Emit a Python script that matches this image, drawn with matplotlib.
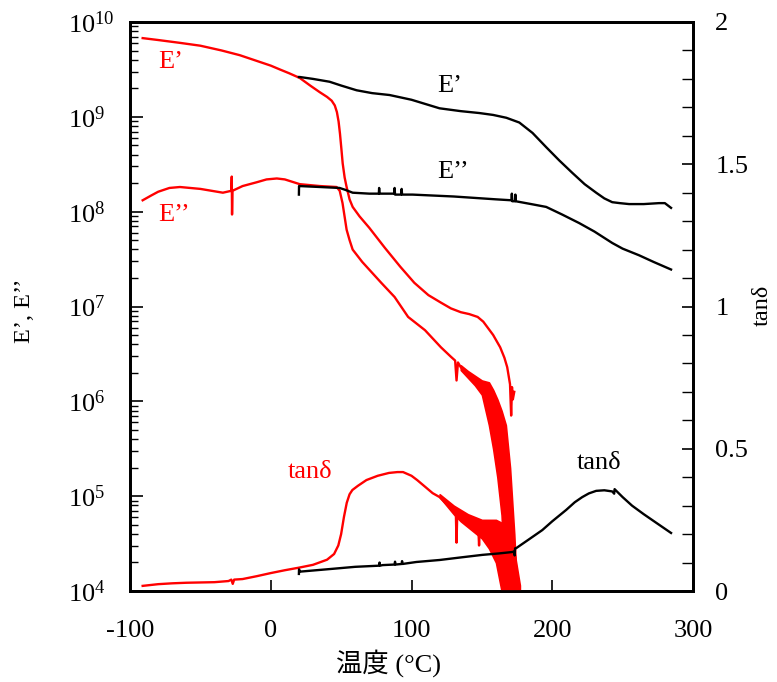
import numpy as np
import matplotlib
matplotlib.use('Agg')
import matplotlib.pyplot as plt
from matplotlib.ticker import FixedLocator, MultipleLocator, FuncFormatter, NullFormatter

plt.rcParams['font.family'] = ['Liberation Serif', 'Noto Sans CJK JP', 'DejaVu Sans']
plt.rcParams['mathtext.fontset'] = 'custom'
plt.rcParams['mathtext.rm'] = 'Liberation Serif'
plt.rcParams['mathtext.it'] = 'Liberation Serif:italic'
plt.rcParams['axes.unicode_minus'] = False

# ---------------- data (log10 of modulus; tan delta) ----------------
# Red sample (-90 .. 175 C)
red_ep_T = [-91, -80, -64.5, -50, -35, -22, -10, 0, 6.4, 13, 20.6, 28, 34.8, 40, 43.3, 45.5, 47,
            48.2, 49.2, 50.2, 51.1, 52.5, 53.9, 56, 58.2, 63.1, 70, 81, 92, 102, 112, 121, 128, 135,
            141, 147, 151, 154, 158, 163, 166, 168, 170, 170.8, 171.4, 172, 173]
red_ep_log = [9.83, 9.81, 9.78, 9.75, 9.70, 9.65, 9.59, 9.54, 9.50, 9.46, 9.41, 9.33, 9.26, 9.21,
              9.17, 9.12, 9.05, 8.95, 8.82, 8.66, 8.51, 8.36, 8.26, 8.13, 8.05, 7.95, 7.83, 7.62,
              7.42, 7.25, 7.12, 7.04, 6.98, 6.94, 6.92, 6.89, 6.84, 6.78, 6.70, 6.57, 6.46, 6.36,
              6.18, 5.85, 6.15, 6.02, 6.10]

red_epp_T = [-91, -85, -80, -72, -64.5, -50, -34, -28, -27.7, -27.5, -27.2, -20, -10, -3, 4.3,
             10, 20.6, 35, 46.8, 49, 51, 53.9, 56, 58.2, 65, 78.5, 88, 97.6, 109.6, 120.9, 128,
             131, 132, 133, 135, 140, 145, 150, 155, 158, 161, 164, 167, 170, 173]
red_epp_log = [8.12, 8.17, 8.21, 8.25, 8.26, 8.24, 8.20, 8.22, 8.37, 7.97, 8.22, 8.27, 8.31, 8.34,
               8.35, 8.34, 8.29, 8.27, 8.26, 8.22, 8.09, 7.81, 7.70, 7.60, 7.47, 7.25, 7.10, 6.89,
               6.75, 6.57, 6.47, 6.43, 6.22, 6.41, 6.36, 6.28, 6.21, 6.14, 5.95, 5.81, 5.61, 5.35,
               4.9, 4.4, 4.0]
# scatter envelope of the noisy E'' tail
red_epp_band_T = [135, 140, 145, 150, 155, 158, 161, 164, 167, 170, 173, 175]
red_epp_band_hi = [6.38, 6.32, 6.27, 6.22, 6.20, 6.12, 6.02, 5.90, 5.75, 5.30, 4.60, 4.00]
red_epp_band_lo = [6.33, 6.25, 6.17, 6.07, 5.75, 5.50, 5.20, 4.80, 3.90, 3.90, 3.90, 3.90]

red_tan_T = [-91, -80, -70, -60, -50, -40, -30, -28, -27, -26, -20, -10, 0, 10, 20, 30, 40, 45,
             48, 50, 52, 54, 56, 58, 62, 68, 76, 84, 90, 94, 100, 104, 110, 115, 120, 125, 130,
             131.5, 132, 132.5, 135, 140, 145, 147.5, 148, 148.5, 150, 155, 160, 165, 170, 175]
red_tan = [0.018, 0.024, 0.027, 0.029, 0.030, 0.031, 0.035, 0.040, 0.025, 0.040, 0.042, 0.052,
           0.063, 0.073, 0.082, 0.092, 0.110, 0.130, 0.160, 0.200, 0.260, 0.310, 0.340, 0.355,
           0.370, 0.390, 0.405, 0.415, 0.418, 0.418, 0.405, 0.390, 0.365, 0.344, 0.330, 0.305,
           0.280, 0.275, 0.170, 0.270, 0.260, 0.245, 0.230, 0.220, 0.160, 0.220, 0.215, 0.200,
           0.170, 0.120, 0.060, 0.000]
# scatter envelope of the noisy tan delta tail
red_tan_band_T = [120, 125, 130, 135, 140, 145, 150, 155, 160, 164, 168, 172, 175, 177]
red_tan_band_hi = [0.34, 0.32, 0.30, 0.285, 0.27, 0.26, 0.25, 0.25, 0.25, 0.24, 0.22, 0.17, 0.08, 0.02]
red_tan_band_lo = [0.33, 0.30, 0.27, 0.245, 0.225, 0.205, 0.185, 0.15, 0.10, 0.00, -0.01, -0.01, -0.01, -0.01]

# Black sample (20 .. 285 C)
blk_ep_T = [20, 20.6, 30, 41.8, 50, 61, 72, 84.4, 100, 119.9, 135, 148.2, 158, 167.4, 176.6, 186,
            195.7, 205, 214.2, 223, 231.2, 237, 242.6, 248, 254.6, 265, 275.9, 280, 284.4]
blk_ep_log = [9.42, 9.42, 9.40, 9.37, 9.33, 9.28, 9.25, 9.23, 9.18, 9.09, 9.06, 9.04, 9.02, 8.99,
              8.94, 8.83, 8.68, 8.54, 8.41, 8.29, 8.20, 8.14, 8.10, 8.09, 8.08, 8.08, 8.09, 8.09, 8.04]

blk_epp_T = [20, 20.1, 20.6, 35, 48.9, 53, 58.2, 70, 76.8, 77, 77.3, 85, 87.6, 88, 88.3, 92.6,
             93, 93.3, 100.7, 130, 160, 171, 171.3, 171.6, 173.5, 173.8, 174, 185, 195.7, 207,
             219.1, 230, 242.6, 250, 261.7, 272, 284.4]
blk_epp_log = [8.18, 8.27, 8.27, 8.26, 8.25, 8.23, 8.20, 8.19, 8.19, 8.25, 8.19, 8.19, 8.19, 8.25,
               8.18, 8.18, 8.24, 8.18, 8.18, 8.16, 8.13, 8.12, 8.19, 8.11, 8.11, 8.18, 8.11, 8.08,
               8.05, 7.97, 7.88, 7.79, 7.67, 7.61, 7.54, 7.47, 7.39]

blk_tan_T = [20, 20.1, 20.6, 30, 44, 60, 77, 77.3, 77.6, 79.4, 88, 88.3, 88.6, 93, 93.3, 93.6,
             103.5, 120, 135, 150.4, 162, 171.6, 173, 173.3, 173.6, 174.5, 183, 192.9, 200, 209.9,
             216, 221.3, 226, 231.2, 237, 242.6, 244, 244.3, 250, 256.7, 265, 273.8, 284.4]
blk_tan = [0.060, 0.076, 0.068, 0.072, 0.078, 0.085, 0.089, 0.100, 0.089, 0.091, 0.093, 0.103,
           0.093, 0.095, 0.105, 0.095, 0.102, 0.109, 0.118, 0.127, 0.132, 0.137, 0.139, 0.125,
           0.150, 0.151, 0.180, 0.214, 0.245, 0.285, 0.312, 0.330, 0.343, 0.352, 0.354, 0.350,
           0.342, 0.358, 0.330, 0.300, 0.270, 0.240, 0.204]

xticks = [-100, 0, 100, 200, 300]
yticks = [1e4, 1e5, 1e6, 1e7, 1e8, 1e9, 1e10]
y2ticks = [0, 0.5, 1, 1.5, 2]
y2ticklabels = ['0', '0.5', '1', '1.5', '2']

RED = '#FF0000'
BLK = '#000000'

fig = plt.figure(figsize=(7.77, 6.82), dpi=100)
ax = fig.add_axes([130 / 777, (682 - 591) / 682, (693 - 130) / 777, (591 - 22) / 682])
ax2 = ax.twinx()

lw = 1.7
ax.plot(red_ep_T, 10 ** np.array(red_ep_log), color=RED, lw=lw)
ax.plot(red_epp_T, 10 ** np.array(red_epp_log), color=RED, lw=lw)
ax.fill_between(red_epp_band_T, 10 ** np.array(red_epp_band_lo), 10 ** np.array(red_epp_band_hi),
                color=RED, lw=1.2, edgecolor=RED)
ax.plot(blk_ep_T, 10 ** np.array(blk_ep_log), color=BLK, lw=lw)
ax.plot(blk_epp_T, 10 ** np.array(blk_epp_log), color=BLK, lw=lw)
ax2.plot(red_tan_T, red_tan, color=RED, lw=lw)
ax2.fill_between(red_tan_band_T, red_tan_band_lo, red_tan_band_hi, color=RED, lw=1.2, edgecolor=RED)
ax2.plot(blk_tan_T, blk_tan, color=BLK, lw=lw)

ax.set_yscale('log')
ax.set_xlim(-100, 300)
ax.set_ylim(1e4, 1e10)
ax2.set_ylim(0, 2)

ax.xaxis.set_major_locator(FixedLocator(xticks))
ax.xaxis.set_major_formatter(FuncFormatter(lambda v, p: '%d' % v))
ax.xaxis.set_minor_locator(FixedLocator([]))
ax.yaxis.set_major_locator(FixedLocator(yticks))
minor = [m * 10 ** e for e in range(4, 10) for m in range(2, 10)]
ax.yaxis.set_minor_locator(FixedLocator(minor))
ax.yaxis.set_minor_formatter(NullFormatter())
ax.yaxis.set_major_formatter(FuncFormatter(lambda v, p: r'$\mathregular{10^{%d}}$' % int(round(np.log10(v)))))

ax2.yaxis.set_major_locator(FixedLocator(y2ticks))
ax2.yaxis.set_major_formatter(FuncFormatter(lambda v, p: y2ticklabels[y2ticks.index(v)] if v in y2ticks else ''))
ax2.yaxis.set_minor_locator(MultipleLocator(0.1))

ax.tick_params(axis='x', which='both', direction='in', length=8, width=1.2, top=False,
               labelsize=19, pad=21)
ax.tick_params(axis='y', which='major', direction='in', length=9, width=1.2, right=False,
               labelsize=19, pad=44.6)
ax.tick_params(axis='y', which='minor', direction='in', length=6, width=1.0, right=False)
ax2.tick_params(axis='y', which='major', direction='in', length=8, width=1.2, left=False,
                labelsize=19, pad=16)
ax2.tick_params(axis='y', which='minor', direction='in', length=8, width=1.0, left=False)

for lbl in ax.get_yticklabels():
    lbl.set_horizontalalignment('left')

for a in (ax, ax2):
    for s in a.spines.values():
        s.set_linewidth(2.0)

W, H = 777, 682
fig.text(389 / W, 1 - 663 / H, '温度 (°C)', fontsize=19, ha='center', va='center')
fig.text(25 / W, 1 - 311 / H, 'E’, E’’', fontsize=17.5, ha='center', va='center', rotation=90)
fig.text(762 / W, 1 - 305 / H, 'tanδ', fontsize=17.5, ha='center', va='center', rotation=90)

ax.text(-80, 10 ** 9.58, 'E’', color=RED, fontsize=19, va='center', ha='left')
ax.text(-80, 10 ** 7.97, 'E’’', color=RED, fontsize=19, va='center', ha='left')
ax.text(118, 10 ** 9.33, 'E’', color=BLK, fontsize=19, va='center', ha='left')
ax.text(118, 10 ** 8.42, 'E’’', color=BLK, fontsize=19, va='center', ha='left')
ax2.text(28, 0.42, 'tanδ', color=RED, fontsize=19, va='center', ha='center')
ax2.text(233, 0.45, 'tanδ', color=BLK, fontsize=19, va='center', ha='center')

fig.savefig('out.png', dpi=100)
